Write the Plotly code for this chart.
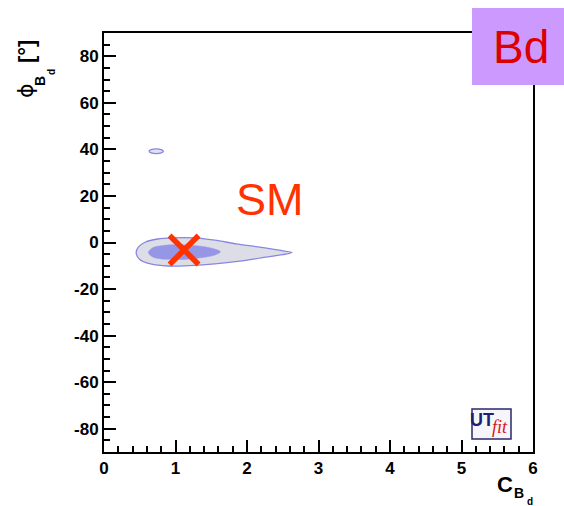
import plotly.graph_objects as go

# ---- data ----
outer_C = [0.45, 0.48, 0.58, 0.75, 0.95, 1.25, 1.55, 1.85, 2.15, 2.45, 2.63,
           2.50, 2.20, 1.90, 1.55, 1.20, 0.90, 0.65, 0.50, 0.45]
outer_phi = [-4.4, -2.0, 0.2, 1.5, 2.0, 2.0, 1.0, -0.6, -1.9, -3.3, -4.3,
             -5.2, -6.6, -8.0, -9.2, -9.9, -10.1, -9.2, -7.3, -4.4]
inner_C = [0.62, 0.68, 0.85, 1.10, 1.35, 1.55, 1.63, 1.55, 1.35, 1.10, 0.85, 0.68, 0.62]
inner_phi = [-4.3, -2.3, -1.2, -1.0, -1.6, -2.8, -4.0, -5.4, -6.6, -7.3, -7.2, -6.2, -4.3]
island_C = [0.63, 0.66, 0.73, 0.80, 0.83, 0.80, 0.73, 0.66, 0.63]
island_phi = [39.2, 39.9, 40.2, 39.9, 39.2, 38.5, 38.2, 38.5, 39.2]
sm_C = [1.12]
sm_phi = [-3.2]

x_tickvals = [0, 1, 2, 3, 4, 5, 6]
x_ticktext = ["0", "1", "2", "3", "4", "5", "6"]
y_tickvals = [-80, -60, -40, -20, 0, 20, 40, 60, 80]
y_ticktext = ["-80", "-60", "-40", "-20", "0", "20", "40", "60", "80"]

# ---- layout geometry helpers (pixels -> paper) ----
W, H = 564, 506
L, R, T, B = 104, 533, 33, 452


def px(x):
    return (x - L) / (R - L)


def py(y):
    return (B - y) / (B - T)


FONT = "Liberation Sans, Arial, sans-serif"
EDGE = "rgb(135,135,225)"

fig = go.Figure()
fig.add_trace(go.Scatter(x=outer_C, y=outer_phi, mode="lines", fill="toself",
                         line=dict(color=EDGE, width=1.3, shape="spline", smoothing=0.8),
                         fillcolor="rgb(221,221,232)", hoverinfo="skip"))
fig.add_trace(go.Scatter(x=inner_C, y=inner_phi, mode="lines", fill="toself",
                         line=dict(color="rgb(150,150,230)", width=0.5, shape="spline", smoothing=0.9),
                         fillcolor="rgb(150,150,230)", hoverinfo="skip"))
fig.add_trace(go.Scatter(x=island_C, y=island_phi, mode="lines", fill="toself",
                         line=dict(color=EDGE, width=1.3, shape="spline", smoothing=1),
                         fillcolor="rgb(225,225,245)", hoverinfo="skip"))
fig.add_trace(go.Scatter(x=sm_C, y=sm_phi, mode="markers",
                         marker=dict(symbol="x-thin", size=29,
                                     line=dict(color="rgb(255,50,0)", width=5.5)),
                         hoverinfo="skip"))

tickfont = dict(family=FONT, size=17, color="black", weight="bold")
fig.update_xaxes(range=[0, 6], showline=True, linecolor="black", linewidth=2, mirror=True,
                 showgrid=False, zeroline=False, ticks="inside", ticklen=12, tickwidth=1.5,
                 tickcolor="black", tickmode="array", tickvals=x_tickvals, ticktext=x_ticktext,
                 tickfont=tickfont,
                 minor=dict(ticks="inside", ticklen=6, dtick=0.2, tickwidth=1.5, tickcolor="black",
                            showgrid=False))
fig.update_yaxes(range=[-90, 90], showline=True, linecolor="black", linewidth=2, mirror=True,
                 showgrid=False, zeroline=False, ticks="inside", ticklen=12, tickwidth=1.5,
                 tickcolor="black", tickmode="array", tickvals=y_tickvals, ticktext=y_ticktext,
                 tickfont=tickfont, ticklabelstandoff=0,
                 minor=dict(ticks="inside", ticklen=6, dtick=5, tickwidth=1.5, tickcolor="black",
                            showgrid=False))

shapes = [
    # Bd label box
    dict(type="rect", xref="paper", yref="paper", x0=px(472), x1=px(566), y0=py(85), y1=py(8),
         fillcolor="rgb(204,153,255)", line=dict(width=0), layer="above"),
    # UTfit logo box
    dict(type="rect", xref="paper", yref="paper", x0=px(472), x1=px(511), y0=py(439), y1=py(409),
         fillcolor="rgb(246,246,250)", line=dict(color="rgb(40,40,110)", width=1.5), layer="above"),
]

ann = []


def a(text, x, y, size, color="black", weight="normal", angle=0, style="normal", family=FONT):
    ann.append(dict(text=text, xref="paper", yref="paper", x=px(x), y=py(y), showarrow=False,
                    xanchor="center", yanchor="middle", textangle=angle,
                    font=dict(family=family, size=size, color=color, weight=weight, style=style)))


a("SM", 270, 199, 45, color="rgb(255,50,0)")
a("Bd", 521, 47, 46, color="rgb(220,0,0)")
a("UT", 481.5, 420, 18, color="rgb(30,30,120)", weight="bold",
  family="Liberation Sans Narrow, Liberation Sans, sans-serif")
a("fit", 500, 427, 18, color="rgb(220,20,20)", style="italic",
  family="Liberation Serif, serif")
# x title C_{B_d}
a("C", 505, 484, 22, weight="bold")
a("B", 519, 493, 14, weight="bold")
a("d", 530, 501, 10, weight="bold")
# y title phi_{B_d} [deg]
a("ϕ", 25, 91, 22, angle=-90, family="DejaVu Sans, sans-serif")
a("B", 40, 81, 14, weight="bold", angle=-90)
a("d", 51, 72, 10, weight="bold", angle=-90)
a("[°]", 26, 52, 22, weight="bold", angle=-90)

fig.update_layout(width=W, height=H, margin=dict(l=L, r=W - R, t=T, b=H - B),
                  plot_bgcolor="white", paper_bgcolor="white", showlegend=False,
                  shapes=shapes, annotations=ann)

fig.write_html("out.html")
